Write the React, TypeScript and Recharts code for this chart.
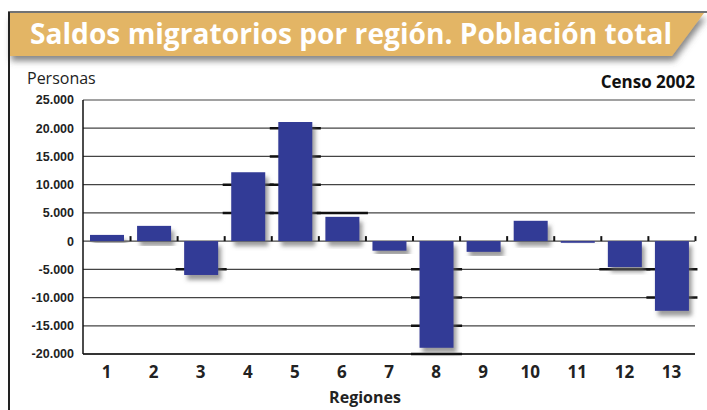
import React from 'react';
import { BarChart, Bar, XAxis, YAxis, CartesianGrid } from 'recharts';

const regions = ['1', '2', '3', '4', '5', '6', '7', '8', '9', '10', '11', '12', '13'];
const saldos = [1100, 2700, -6000, 12200, 21100, 4300, -1700, -18900, -1900, 3600, -300, -4600, -12350];
const yTicks = [-20000, -15000, -10000, -5000, 0, 5000, 10000, 15000, 20000, 25000];

const title = 'Saldos migratorios por región. Población total';
const yLabel = 'Personas';
const xLabel = 'Regiones';
const note = 'Censo 2002';

const data = regions.map((r, i) => ({ region: r, saldo: saldos[i] }));

const CHART_W = 707;
const MARGIN_L = 83;
const MARGIN_R = 12;
const BAR_SIZE = 34;
const BAND = (CHART_W - MARGIN_L - MARGIN_R) / regions.length;
const GAP = (BAND - BAR_SIZE) / 2;

const fmt = (v: number) => {
  const s = Math.abs(v).toString().replace(/\B(?=(\d{3})+(?!\d))/g, '.');
  return v < 0 ? '-' + s : s;
};

const BarShape = (props: any) => {
  const { x, y, width, height, value } = props;
  const v = Array.isArray(value) ? value[1] - value[0] : value;
  const top = Math.min(y, y + height);
  const h = Math.abs(height);
  const zeroY = v >= 0 ? top + h : top;
  const ppu = v !== 0 ? h / Math.abs(v) : 0;
  const bx = x - GAP;
  const bw = width + 2 * GAP;
  const segs: number[] = [];
  const sign = v >= 0 ? 1 : -1;
  for (let m = 5000; m <= Math.abs(v) + 1200; m += 5000) segs.push(sign * m);
  return (
    <g>
      {segs.map((m) => (
        <line key={m} x1={bx - 2} x2={bx + bw + 2} y1={zeroY - m * ppu} y2={zeroY - m * ppu} stroke="#111" strokeWidth={2.5} />
      ))}
      <rect x={x} y={top} width={width} height={Math.max(h, 1.5)} fill="#333A96" filter="url(#barShadow)" />
      <line x1={bx + bw} x2={bx + bw} y1={zeroY - 5} y2={zeroY} stroke="#111" strokeWidth={2} />
    </g>
  );
};

export default function App() {
  return (
    <div style={{ position: 'absolute', left: 0, top: 0, width: 707, height: 410, background: '#fff' }}>
      <svg width={707} height={410} style={{ position: 'absolute', left: 0, top: 0 }}>
        <defs>
          <filter id="barShadow" x="-30%" y="-30%" width="160%" height="160%">
            <feDropShadow dx="3" dy="5" stdDeviation="2.2" floodColor="#666" floodOpacity="0.65" />
          </filter>
          <filter id="bannerShadow" x="-5%" y="-20%" width="110%" height="160%">
            <feDropShadow dx="2" dy="5" stdDeviation="3" floodColor="#555" floodOpacity="0.7" />
          </filter>
        </defs>
        <line x1={8} x2={707} y1={12} y2={12} stroke="#444" strokeWidth={1.5} />
        <polygon points="9,13 704,13 672,56 9,56" fill="#E3B565" filter="url(#bannerShadow)" />
        <line x1={9} x2={9} y1={12} y2={410} stroke="#222" strokeWidth={2} />
        <text x={30} y={44} fill="#fff" fontFamily="'Open Sans', sans-serif" fontWeight={700} fontSize={28} textLength={642} lengthAdjust="spacingAndGlyphs">
          {title}
        </text>
        <text x={27} y={84} fill="#222" fontFamily="'Open Sans', sans-serif" fontSize={16}>
          {yLabel}
        </text>
        <text x={695} y={88} fill="#111" textAnchor="end" fontFamily="'Open Sans', sans-serif" fontWeight={700} fontSize={17}>
          {note}
        </text>
        <text x={365} y={403} fill="#222" textAnchor="middle" fontFamily="'Open Sans', sans-serif" fontWeight={700} fontSize={16}>
          {xLabel}
        </text>
      </svg>
      <div style={{ position: 'absolute', left: 0, top: 0 }}>
        <BarChart width={CHART_W} height={410} data={data} margin={{ top: 100, right: MARGIN_R, left: 0, bottom: 0 }} barSize={BAR_SIZE}>
          <CartesianGrid vertical={false} stroke="#444" strokeWidth={1.2} />
          <XAxis
            dataKey="region"
            height={56}
            tickLine={false}
            tickSize={0}
            tickMargin={12}
            axisLine={{ stroke: '#111', strokeWidth: 1.5 }}
            tick={{ fontSize: 17, fontWeight: 700, fill: '#222', fontFamily: "'Open Sans', sans-serif" }}
            interval={0}
          />
          <YAxis
            width={MARGIN_L}
            domain={[-20000, 25000]}
            ticks={yTicks}
            tickFormatter={fmt}
            tickLine={false}
            tickSize={0}
            tickMargin={9}
            axisLine={{ stroke: '#111', strokeWidth: 1.5 }}
            tick={{ fontSize: 12.5, fontWeight: 600, fill: '#222', fontFamily: "'Liberation Sans', sans-serif" }}
            interval={0}
          />
          <Bar dataKey="saldo" shape={BarShape} isAnimationActive={false} />
        </BarChart>
      </div>
    </div>
  );
}
